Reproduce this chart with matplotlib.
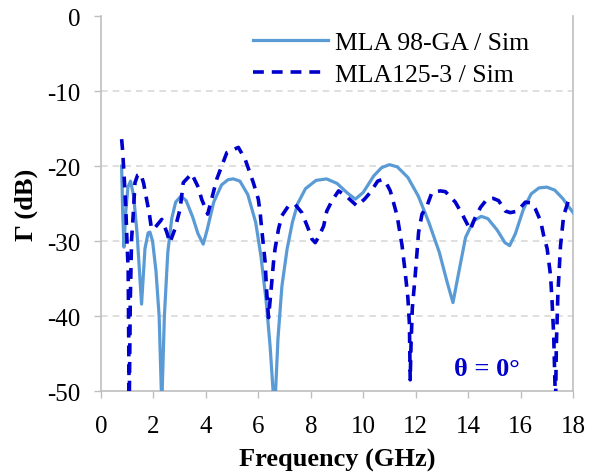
import matplotlib
matplotlib.use("Agg")
import matplotlib.pyplot as plt

# MLA 98-GA / Sim (solid)
f_ga = [0.79, 0.83, 0.88, 0.95, 1.03, 1.13, 1.25, 1.38, 1.55, 1.68, 1.80, 1.87, 1.97, 2.10, 2.22,
        2.32, 2.42, 2.55, 2.70, 2.85, 3.05, 3.25, 3.50, 3.70, 3.90, 4.05, 4.30, 4.60, 4.85, 5.05,
        5.30, 5.60, 5.90, 6.10, 6.30, 6.45, 6.62, 6.75, 6.90, 7.10, 7.30, 7.50, 7.80, 8.20, 8.60,
        9.00, 9.40, 9.70, 10.0, 10.4, 10.7, 11.0, 11.3, 11.7, 12.1, 12.5, 12.9, 13.2, 13.42, 13.65,
        13.9, 14.2, 14.5, 14.75, 15.1, 15.4, 15.58, 15.8, 16.1, 16.4, 16.7, 17.0, 17.3, 17.6, 17.85, 18.0]
g_ga = [-20.0, -26.0, -30.8, -26.0, -22.8, -22.0, -24.0, -29.0, -38.4, -31.0, -28.9, -28.8, -30.0, -34.0, -40.0,
        -52.0, -40.0, -31.5, -27.0, -24.8, -24.0, -24.6, -26.8, -29.0, -30.4, -28.5, -24.8, -22.5, -21.8, -21.7,
        -22.0, -23.8, -27.5, -32.0, -38.0, -44.0, -53.0, -43.0, -36.0, -31.0, -27.5, -25.0, -23.0, -21.9, -21.7,
        -22.3, -23.6, -24.4, -23.5, -21.3, -20.2, -19.8, -20.1, -21.5, -24.0, -27.5, -31.5, -35.5, -38.2, -34.0,
        -29.5, -27.3, -26.7, -27.0, -28.5, -30.2, -30.6, -29.0, -25.8, -23.7, -22.9, -22.8, -23.2, -24.3, -25.5, -26.2]

# MLA125-3 / Sim (dashed)
f_125 = [0.79, 0.83, 0.92, 0.95, 1.00, 1.04, 1.08, 1.12, 1.17, 1.23, 1.30, 1.40, 1.52, 1.63, 1.74,
         1.84, 1.93, 2.06, 2.32, 2.51, 2.63, 2.82, 3.02, 3.14, 3.46, 3.71, 3.84, 4.07, 4.25, 4.42,
         4.80, 5.24, 5.50, 5.81, 6.00, 6.07, 6.13, 6.26, 6.32, 6.39, 6.50, 6.58, 6.64, 6.77, 6.90,
         7.15, 7.40, 7.66, 7.91, 8.04, 8.17, 8.29, 8.49, 8.61, 8.81, 9.06, 9.35, 9.76, 10.05, 10.27,
         10.55, 10.71, 10.84, 11.03, 11.15, 11.29, 11.48, 11.60, 11.70, 11.76, 11.79, 11.82, 11.87, 11.98, 12.11,
         12.24, 12.43, 12.62, 12.94, 13.13, 13.51, 13.77, 14.08, 14.25, 14.47, 14.72, 14.95, 15.16, 15.42, 15.61,
         15.87, 16.18, 16.40, 16.56, 16.76, 16.88, 17.01, 17.14, 17.20, 17.26, 17.33, 17.36, 17.42, 17.52, 17.64,
         17.84, 17.90]
g_125 = [-16.4, -18.0, -23.5, -25.7, -30.6, -33.7, -52.0, -38.0, -29.7, -26.6, -22.2, -21.2, -21.0, -22.3, -24.4,
         -26.2, -28.4, -28.2, -27.1, -28.8, -30.2, -28.4, -25.7, -22.2, -21.0, -22.8, -24.4, -26.4, -24.0, -21.7,
         -18.2, -17.5, -19.1, -22.2, -24.4, -26.2, -28.4, -32.8, -36.8, -40.2, -36.0, -32.8, -31.0, -28.4, -26.6,
         -25.3, -25.1, -26.2, -28.4, -29.7, -30.2, -29.5, -28.0, -26.0, -24.6, -23.3, -24.0, -25.3, -24.4, -23.5,
         -22.0, -21.8, -22.0, -23.3, -24.8, -26.6, -30.6, -34.2, -37.5, -41.0, -48.5, -44.0, -39.0, -34.6, -28.8,
         -26.4, -25.3, -23.5, -23.3, -23.4, -24.8, -26.4, -28.5, -27.0, -25.5, -24.4, -24.3, -24.6, -26.0, -26.2,
         -26.0, -24.8, -24.9, -25.7, -27.3, -29.3, -31.0, -34.6, -38.2, -42.6, -52.0, -44.0, -37.0, -30.6, -26.6,
         -24.4, -23.8]

x_ticks = [0, 2, 4, 6, 8, 10, 12, 14, 16, 18]
y_ticks = [-50, -40, -30, -20, -10, 0]

plt.rcParams['font.family'] = ['Liberation Serif', 'DejaVu Serif']
plt.rcParams['axes.unicode_minus'] = False

fig = plt.figure(figsize=(5.97, 4.77), dpi=100)
ax = fig.add_axes([0.169, 0.178, 0.791, 0.786])

ax.plot(f_ga, g_ga, color='#5B9BD5', lw=2.3, label='MLA 98-GA / Sim', zorder=3)
ax.plot(f_125, g_125, color='#0000CC', lw=2.6, dashes=(3, 2.2), label='MLA125-3 / Sim', zorder=4)

ax.set_xlim(0, 18)
ax.set_ylim(-50, 0)
ax.set_xticks(x_ticks)
ax.set_yticks(y_ticks)
ax.tick_params(labelsize=18, color='#bfbfbf', length=5, width=1, direction='out')
ax.tick_params(axis='x', pad=12)
ax.tick_params(axis='y', pad=10)
for t in y_ticks[1:-1]:
    ax.axhline(t, color='#d9d9d9', lw=1.2, ls=(0, (4, 3)), zorder=1)

for s in ['left', 'bottom', 'right']:
    ax.spines[s].set_color('#bfbfbf')
    ax.spines[s].set_linewidth(1.2)
ax.spines['top'].set_visible(False)

ax.set_xlabel('Frequency (GHz)', fontsize=19, fontweight='bold', labelpad=8)
ax.set_ylabel('Γ (dB)', fontsize=19, fontweight='bold', labelpad=6)

ax.text(14.7, -47.0, 'θ = 0°', color='#0000CC', fontsize=19, fontweight='bold',
        ha='center', va='center')

leg = ax.legend(loc='upper right', frameon=False, fontsize=18.5, handlelength=2.9,
                handletextpad=0.3, labelspacing=0.35, borderaxespad=0.1,
                bbox_to_anchor=(0.935, 0.995))

fig.savefig('out.png', dpi=100)
